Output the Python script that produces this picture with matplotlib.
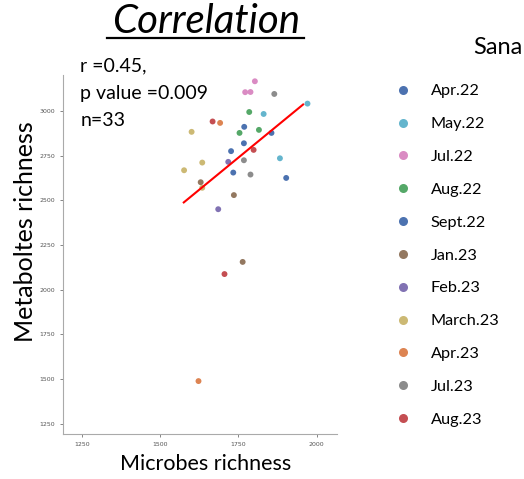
import numpy as np
import matplotlib.pyplot as plt
from matplotlib.lines import Line2D

months = ["Apr.22", "May.22", "Jul.22", "Aug.22", "Sept.22", "Jan.23",
          "Feb.23", "March.23", "Apr.23", "Jul.23", "Aug.23"]
colors = ["#4C72B0", "#64B5CD", "#DA8BC3", "#55A868", "#4C72B0", "#937860",
          "#8172B3", "#CCB974", "#DD8452", "#8C8C8C", "#C44E52"]

# per-sample values
sample_month = ["Apr.22", "Apr.22", "Apr.22",
                "Sept.22", "Sept.22", "Sept.22",
                "May.22", "May.22", "May.22",
                "Jul.22", "Jul.22", "Jul.22",
                "Aug.22", "Aug.22", "Aug.22",
                "Jan.23", "Jan.23", "Jan.23",
                "Feb.23", "Feb.23",
                "March.23", "March.23", "March.23", "March.23",
                "Apr.23", "Apr.23",
                "Jul.23", "Jul.23", "Jul.23",
                "Aug.23", "Aug.23", "Aug.23"]
microbes = [1769, 1768, 1727,
            1856, 1734, 1903,
            1971, 1831, 1883,
            1803, 1772, 1789,
            1785, 1754, 1816,
            1630, 1736, 1764,
            1718, 1686,
            1601, 1635, 1577, 1635,
            1692, 1623,
            1865, 1768, 1789,
            1668, 1799, 1706]
metabolites = [2911, 2819, 2775,
               2877, 2655, 2625,
               3041, 2983, 2735,
               3166, 3105, 3106,
               2994, 2877, 2894,
               2601, 2529, 2155,
               2715, 2450,
               2883, 2711, 2668, 2570,
               2933, 1488,
               3095, 2724, 2644,
               2941, 2782, 2087]

# regression line as drawn in the picture
trend_x = [1576, 1957]
trend_y = [2488, 3036]

stats_text = "r =0.45,\np value =0.009\nn=33"

fig = plt.figure(figsize=(5.24, 4.79), dpi=100)
ax = fig.add_axes([0.120, 0.094, 0.523, 0.749])

sample_month = np.array(sample_month)
microbes = np.array(microbes)
metabolites = np.array(metabolites)
for m, c in zip(months, colors):
    sel = sample_month == m
    ax.scatter(microbes[sel], metabolites[sel], s=18, color=c, edgecolor="none", zorder=2)

ax.plot(trend_x, trend_y, color="red", lw=1.5, zorder=3)

ax.set_xlim(1190, 2065)
ax.set_ylim(1192, 3200)
ax.set_xticks([1250, 1500, 1750, 2000])
ax.set_yticks([1250, 1500, 1750, 2000, 2250, 2500, 2750, 3000])
ax.tick_params(labelsize=4.5, colors="#555555", length=2, width=0.5)
for s in ["top", "right"]:
    ax.spines[s].set_visible(False)
for s in ["left", "bottom"]:
    ax.spines[s].set_color("#aaaaaa")
    ax.spines[s].set_linewidth(0.8)

fig.text(0.393, 0.031, "Microbes richness", fontsize=15.5, family="Lato",
         ha="center", va="center")
fig.text(0.048, 0.517, "Metaboltes richness", fontsize=18, family="Lato",
         ha="center", va="center", rotation=90)
fig.text(0.153, 0.880, stats_text, fontsize=14, family="Lato",
         ha="left", va="top", linespacing=1.72)

fig.text(0.393, 0.955, "Correlation", fontsize=29, family="Lato",
         style="italic", ha="center", va="center")
fig.add_artist(Line2D([0.204, 0.580], [0.921, 0.921], color="black", lw=1.6,
                      transform=fig.transFigure))
fig.text(0.903, 0.900, "Sana", fontsize=17, family="Lato", ha="left", va="center")

handles = [Line2D([], [], ls="none", marker="o", markersize=6.5, color=c,
                  markeredgecolor="none") for c in colors]
fig.legend(handles, months, loc="upper left", bbox_to_anchor=(0.7255, 0.838),
           frameon=False, prop={"family": "Lato", "size": 11.7},
           labelspacing=1.135, handletextpad=0.7, borderaxespad=0)

fig.savefig("out.png", dpi=100)
